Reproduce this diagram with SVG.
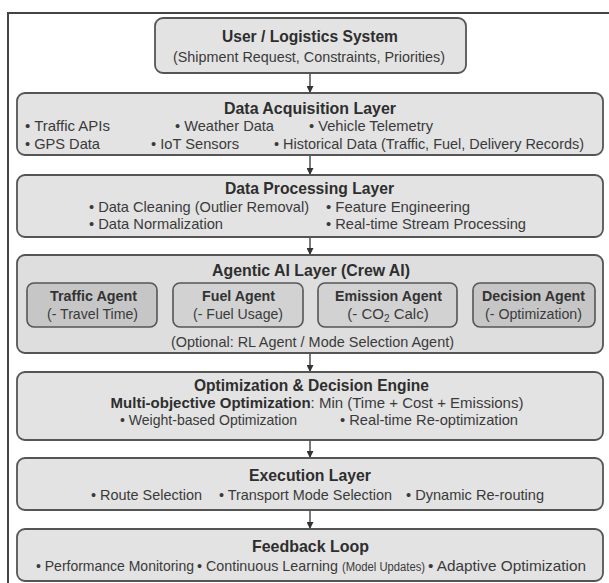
<svg xmlns="http://www.w3.org/2000/svg" width="609" height="583" viewBox="0 0 609 583">
  <style>
    .box { fill: #e3e3e3; stroke: #555; stroke-width: 1.8; }
    .outer { fill: #dedede; stroke: #555; stroke-width: 1.8; }
    .agentA { fill: #c6c6c6; stroke: #555; stroke-width: 1.6; }
    .agentB { fill: #d2d2d2; stroke: #555; stroke-width: 1.6; }
    text { font-family: "Liberation Sans", Arial, sans-serif; fill: #3a3a3a; }
    .t { font-size: 17px; font-weight: bold; fill: #2e2e2e; }
    .at { font-size: 15px; font-weight: bold; fill: #333; }
    .b { font-size: 15px; }
    .s { font-size: 12px; }
    .conn { stroke: #333; stroke-width: 1.3; fill: none; }
  </style>
  <defs>
    <marker id="arrow" viewBox="0 0 10 10" refX="10" refY="5" markerWidth="7" markerHeight="7" markerUnits="userSpaceOnUse" orient="auto">
      <path d="M0,0 L10,5 L0,10 z" fill="#333"/>
    </marker>
  </defs>

  <!-- page frame (top and left rules) -->
  <path d="M8,583 L8,13 L609,13" fill="none" stroke="#444" stroke-width="2"/>

  <!-- connectors -->
  <g id="connectors">
    <line class="conn" x1="310" y1="73" x2="310" y2="93" marker-end="url(#arrow)"/>
    <line class="conn" x1="310" y1="155" x2="310" y2="175" marker-end="url(#arrow)"/>
    <line class="conn" x1="310" y1="237" x2="310" y2="255" marker-end="url(#arrow)"/>
    <line class="conn" x1="310" y1="353" x2="310" y2="372" marker-end="url(#arrow)"/>
    <line class="conn" x1="310" y1="440" x2="310" y2="458" marker-end="url(#arrow)"/>
    <line class="conn" x1="310" y1="510" x2="310" y2="529" marker-end="url(#arrow)"/>
  </g>

  <g id="user">
    <rect class="box" x="155" y="18" width="311" height="55" rx="8"/>
    <text class="t" x="222" y="42" textLength="176" lengthAdjust="spacingAndGlyphs">User / Logistics System</text>
    <text class="b" x="173" y="62" textLength="272" lengthAdjust="spacingAndGlyphs">(Shipment Request, Constraints, Priorities)</text>
  </g>

  <g id="acquisition">
    <rect class="box" x="17" y="93" width="586" height="62" rx="8"/>
    <text class="t" x="224" y="114" textLength="172" lengthAdjust="spacingAndGlyphs">Data Acquisition Layer</text>
    <text class="b" x="25" y="131" textLength="85" lengthAdjust="spacingAndGlyphs">• Traffic APIs</text>
    <text class="b" x="175" y="131" textLength="99" lengthAdjust="spacingAndGlyphs">• Weather Data</text>
    <text class="b" x="309" y="131" textLength="124" lengthAdjust="spacingAndGlyphs">• Vehicle Telemetry</text>
    <text class="b" x="25" y="149" textLength="75" lengthAdjust="spacingAndGlyphs">• GPS Data</text>
    <text class="b" x="151" y="149" textLength="88" lengthAdjust="spacingAndGlyphs">• IoT Sensors</text>
    <text class="b" x="274" y="149" textLength="310" lengthAdjust="spacingAndGlyphs">• Historical Data (Traffic, Fuel, Delivery Records)</text>
  </g>

  <g id="processing">
    <rect class="box" x="17" y="175" width="586" height="62" rx="8"/>
    <text class="t" x="225" y="194" textLength="169" lengthAdjust="spacingAndGlyphs">Data Processing Layer</text>
    <text class="b" x="89" y="212" textLength="220" lengthAdjust="spacingAndGlyphs">• Data Cleaning (Outlier Removal)</text>
    <text class="b" x="326" y="212" textLength="144" lengthAdjust="spacingAndGlyphs">• Feature Engineering</text>
    <text class="b" x="89" y="229" textLength="134" lengthAdjust="spacingAndGlyphs">• Data Normalization</text>
    <text class="b" x="326" y="229" textLength="200" lengthAdjust="spacingAndGlyphs">• Real-time Stream Processing</text>
  </g>

  <g id="agentic">
    <rect class="outer" x="17" y="255" width="586" height="98" rx="8"/>
    <text class="t" x="212" y="276" textLength="198" lengthAdjust="spacingAndGlyphs">Agentic AI Layer (Crew AI)</text>
    <g id="traffic-agent">
      <rect class="agentA" x="27" y="283" width="130" height="44" rx="7"/>
      <text class="at" x="50" y="301" textLength="87" lengthAdjust="spacingAndGlyphs">Traffic Agent</text>
      <text class="b" x="47" y="319" textLength="91" lengthAdjust="spacingAndGlyphs">(- Travel Time)</text>
    </g>
    <g id="fuel-agent">
      <rect class="agentB" x="173" y="283" width="130" height="44" rx="7"/>
      <text class="at" x="202" y="301" textLength="73" lengthAdjust="spacingAndGlyphs">Fuel Agent</text>
      <text class="b" x="193" y="319" textLength="90" lengthAdjust="spacingAndGlyphs">(- Fuel Usage)</text>
    </g>
    <g id="emission-agent">
      <rect class="agentB" x="318" y="283" width="139" height="44" rx="7"/>
      <text class="at" x="335" y="301" textLength="107" lengthAdjust="spacingAndGlyphs">Emission Agent</text>
      <text class="b" x="388" y="319" text-anchor="middle">(- CO<tspan font-size="10" baseline-shift="-3">2</tspan> Calc)</text>
    </g>
    <g id="decision-agent">
      <rect class="agentA" x="473" y="283" width="122" height="44" rx="7"/>
      <text class="at" x="482" y="301" textLength="103" lengthAdjust="spacingAndGlyphs">Decision Agent</text>
      <text class="b" x="485" y="319" textLength="97" lengthAdjust="spacingAndGlyphs">(- Optimization)</text>
    </g>
    <text class="b" x="171" y="347" textLength="283" lengthAdjust="spacingAndGlyphs">(Optional: RL Agent / Mode Selection Agent)</text>
  </g>

  <g id="optimization">
    <rect class="box" x="17" y="372" width="586" height="68" rx="8"/>
    <text class="t" x="194" y="391" textLength="235" lengthAdjust="spacingAndGlyphs">Optimization &amp; Decision Engine</text>
    <text class="b" x="317" y="408" text-anchor="middle"><tspan font-weight="bold" fill="#2e2e2e">Multi-objective Optimization</tspan>: Min (Time + Cost + Emissions)</text>
    <text class="b" x="120" y="425" textLength="177" lengthAdjust="spacingAndGlyphs">• Weight-based Optimization</text>
    <text class="b" x="340" y="425" textLength="178" lengthAdjust="spacingAndGlyphs">• Real-time Re-optimization</text>
  </g>

  <g id="execution">
    <rect class="box" x="17" y="458" width="586" height="52" rx="8"/>
    <text class="t" x="249" y="481" textLength="122" lengthAdjust="spacingAndGlyphs">Execution Layer</text>
    <text class="b" x="91" y="500" textLength="111" lengthAdjust="spacingAndGlyphs">• Route Selection</text>
    <text class="b" x="219" y="500" textLength="173" lengthAdjust="spacingAndGlyphs">• Transport Mode Selection</text>
    <text class="b" x="406" y="500" textLength="138" lengthAdjust="spacingAndGlyphs">• Dynamic Re-routing</text>
  </g>

  <g id="feedback">
    <rect class="box" x="17" y="529" width="586" height="52" rx="8"/>
    <text class="t" x="252" y="552" textLength="117" lengthAdjust="spacingAndGlyphs">Feedback Loop</text>
    <text class="b" x="36" y="571" textLength="158" lengthAdjust="spacingAndGlyphs">• Performance Monitoring</text>
    <text class="b" x="197" y="571" textLength="141" lengthAdjust="spacingAndGlyphs">• Continuous Learning</text>
    <text class="s" x="342" y="571" textLength="83" lengthAdjust="spacingAndGlyphs">(Model Updates)</text>
    <text class="b" x="428" y="571" textLength="158" lengthAdjust="spacingAndGlyphs">• Adaptive Optimization</text>
  </g>
</svg>
